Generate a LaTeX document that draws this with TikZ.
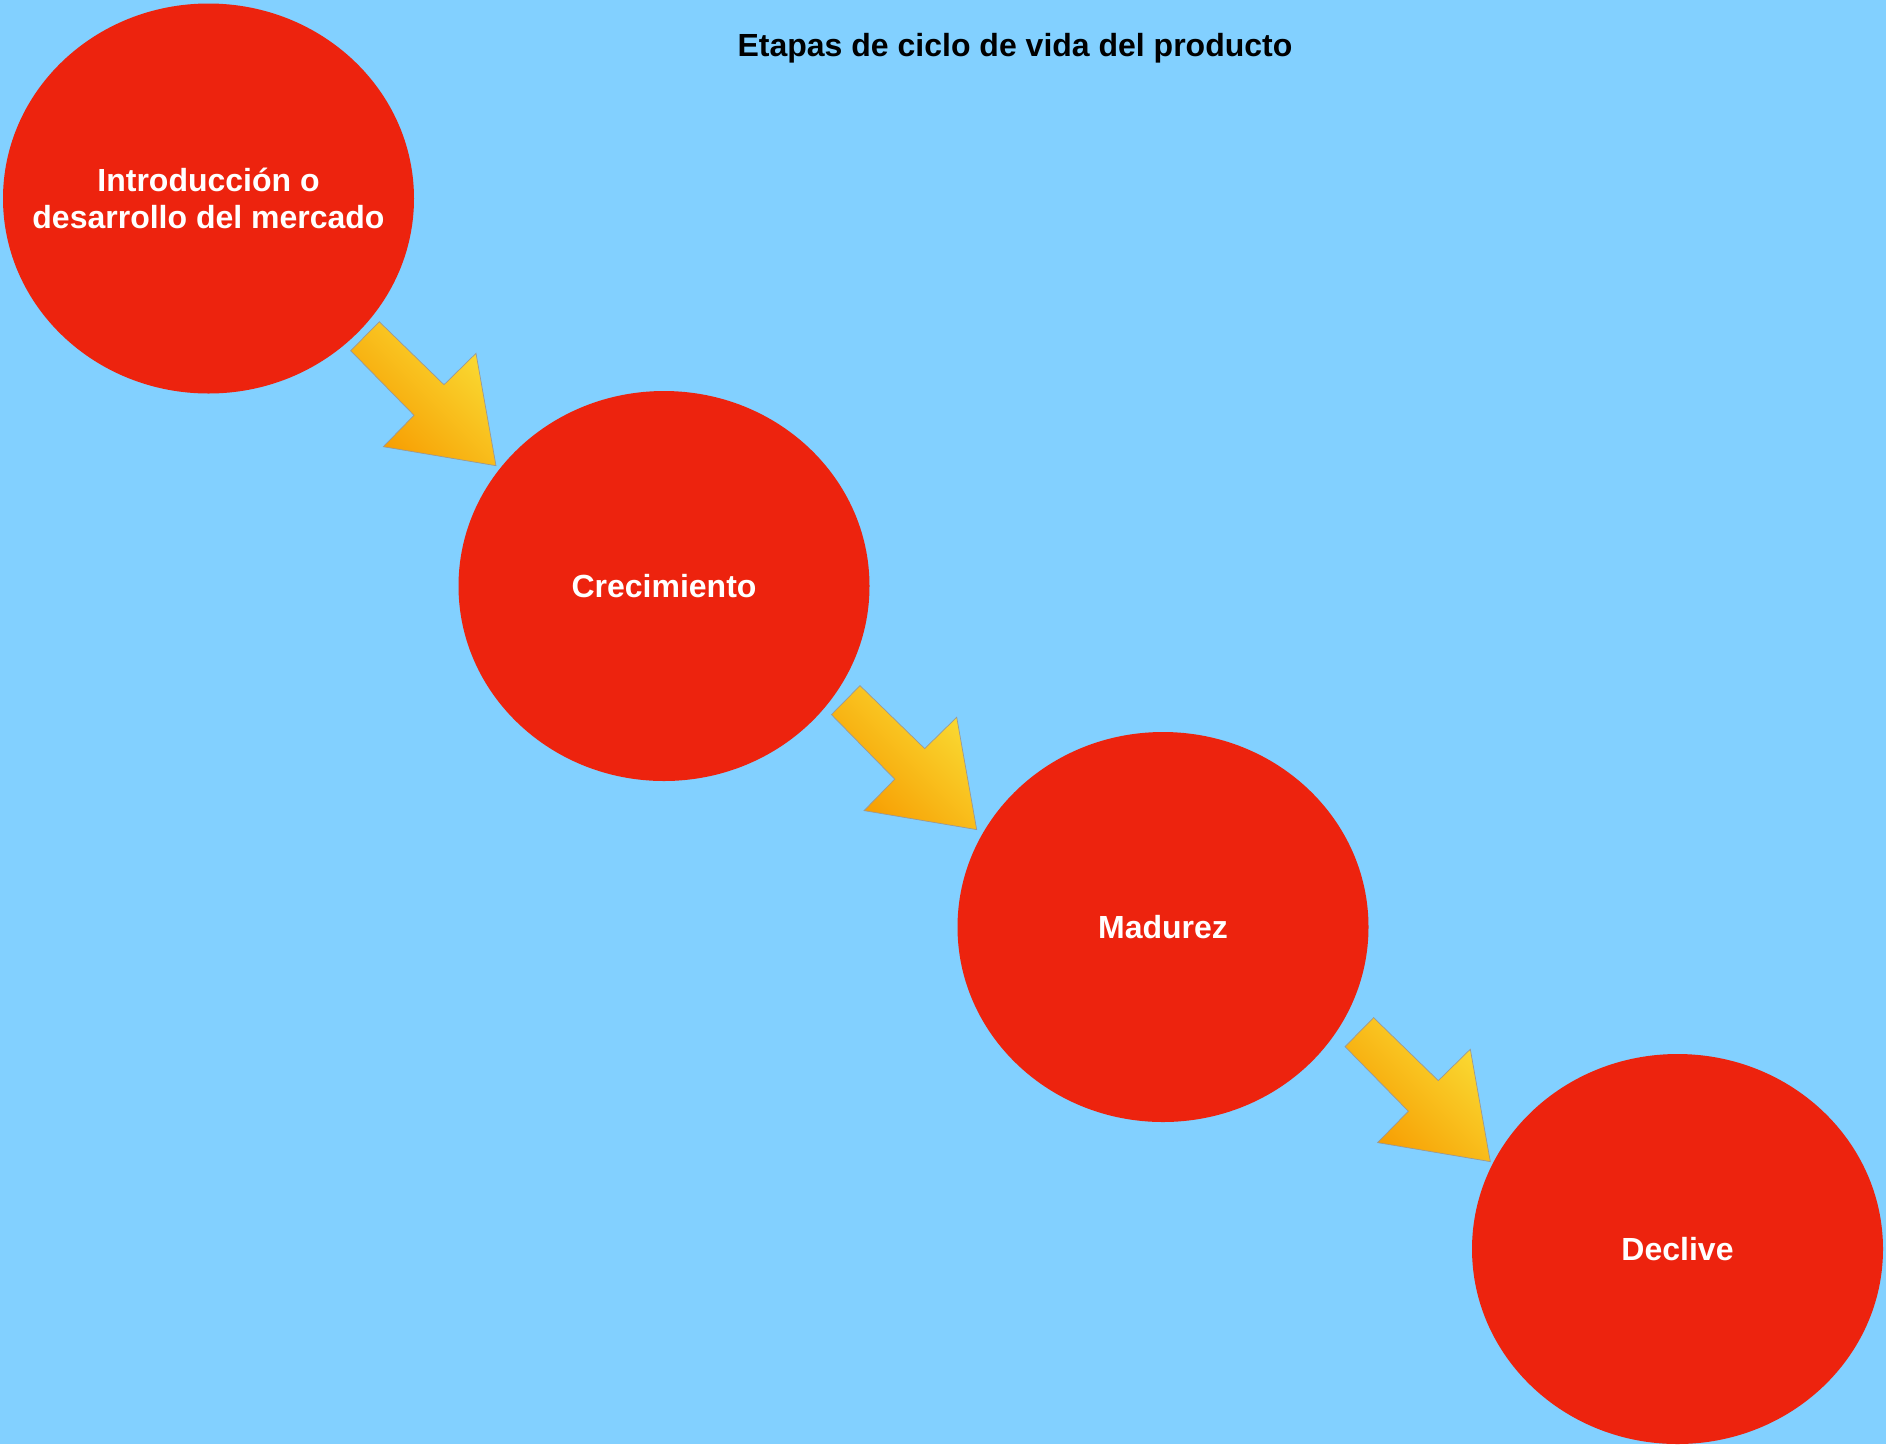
\documentclass[tikz,border=0pt]{standalone}
\usepackage{fontspec}
\setmainfont{Liberation Sans}
\usetikzlibrary{shapes.geometric}

\definecolor{skyblue}{RGB}{130,208,255}
\definecolor{stagered}{RGB}{237,35,14}
\definecolor{arrowdark}{RGB}{247,155,0}
\definecolor{arrowlight}{RGB}{250,220,52}

\tikzset{
  blockarrow/.style={draw=black!40,line width=0.7,top color=arrowlight,bottom color=arrowdark,shading angle=-45}
}
\newcommand{\stagearrow}[1]{%
  \path[blockarrow,shift={#1}] (0,0) -- (-28.6,29) -- (34.7,93.6) -- (4,125)
    -- (116.7,144) -- (96.7,31.6) -- (64.7,63) -- cycle;}

\begin{document}
\begin{tikzpicture}[x=1pt,y=-1pt]

      \fill[skyblue] (0,0) rectangle (1886,1444);
      \useasboundingbox (0,0) rectangle (1886,1444);

      \node (title) at (1015,48) {\bfseries\fontsize{32}{38}\selectfont Etapas de ciclo de vida del producto};

      \begin{scope}[every node/.style={ellipse,fill=stagered,minimum width=411,minimum height=390,inner xsep=-60pt,inner ysep=0pt,
          align=center,text=white,font=\bfseries\fontsize{32}{37}\selectfont}]
        \node (1) at (208.5,198.5) {Introducción o\\desarrollo del mercado};
        \node (2) at (664,586)     {Crecimiento};
        \node (3) at (1163,927)    {Madurez};
        \node (4) at (1677.5,1249) {Declive};
      \end{scope}

      \stagearrow{(379.3,321.7)}
      \stagearrow{(860,685.6)}
      \stagearrow{(1373.6,1017.6)}

    \end{tikzpicture}
\end{document}
